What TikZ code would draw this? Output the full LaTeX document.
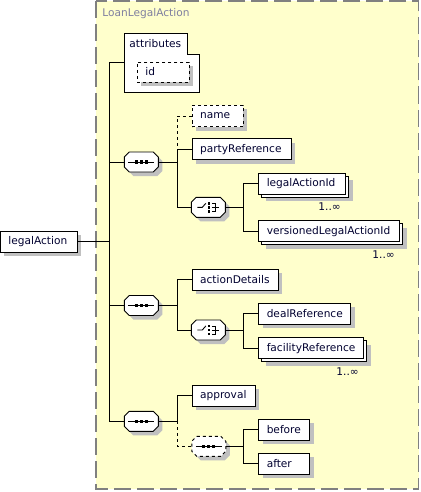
\documentclass[tikz,border=0pt]{standalone}
\usepackage{fontspec}
\setmainfont{DejaVu Sans}
\usetikzlibrary{shadows}
\definecolor{schemabg}{HTML}{FFFFCC}
\definecolor{schemaedge}{HTML}{808080}
\definecolor{schematitle}{HTML}{7F7FA0}
\definecolor{boxshadow}{HTML}{C0C0C0}
\definecolor{labeltext}{HTML}{000030}

% octagon frame of a compositor, drawn round its node
\newcommand{\octframe}[2][]{%
  \begin{scope}[shift={(#2.center)}]
    \fill[boxshadow] (-8,-6) -- (16,-6) -- (21,-1) -- (21,9) -- (16,14) -- (-8,14) -- (-13,9) -- (-13,-1) -- cycle;
    \draw[fill=white,#1] (-12,-10) -- (12,-10) -- (17,-5) -- (17,5) -- (12,10) -- (-12,10) -- (-17,5) -- (-17,-5) -- cycle;
  \end{scope}}
% compositor marks
\newcommand{\seqsymbol}[2][]{%
  \octframe[#1]{#2}
  \begin{scope}[shift={(#2.center)}]
    \draw[line width=1pt] (-13,0) -- (13,0);
    \foreach \dx in {-5,0,5} \fill (\dx-1.6,-1.6) rectangle (\dx+1.6,1.6);
  \end{scope}}
\newcommand{\choicesymbol}[1]{%
  \octframe{#1}
  \begin{scope}[shift={(#1.center)}]
    \draw[line width=0.9pt] (-11,0) -- (-6,0) -- (-2.5,-4);
    \foreach \dy in {-4,0,4} \fill (-0.6,\dy-1.3) rectangle (1.9,\dy+1.3);
    \draw[line width=0.9pt] (3.5,-4) -- (7,-4) -- (7,4) -- (3.5,4) (3.5,0) -- (11,0);
  \end{scope}}

\begin{document}
\begin{tikzpicture}[x=1pt,y=-1pt,line width=0.9pt,
  font=\fontsize{10.6}{12}\selectfont,text=labeltext,
  elem/.style={draw,fill=white,text width=#1,inner xsep=8pt,inner ysep=0pt,
    minimum height=21pt,align=left,anchor=west,
    drop shadow={shadow xshift=4pt,shadow yshift=-4pt,fill=boxshadow,opacity=1}},
  optelem/.style={elem=#1,dashed},
  multielem/.style={draw,fill=white,text width=#1,inner xsep=8pt,inner ysep=0pt,
    minimum height=21pt,align=left,anchor=west,
    drop shadow={shadow xshift=7pt,shadow yshift=-7pt,fill=boxshadow,opacity=1},
    copy shadow={shadow xshift=3pt,shadow yshift=-3pt}},
  compositor/.style={minimum width=34pt,minimum height=20pt,inner sep=0pt},
  mult/.style={inner sep=0pt,anchor=north east}]
\useasboundingbox (0,0) rectangle (420,492);

% complex type frame
\fill[schemabg] (96,1) rectangle (418.5,489);
\draw[schemaedge,line width=1.5pt,dash pattern=on 17pt off 6pt] (96,1) rectangle (418.5,489);
\node[anchor=west,inner sep=0pt,text=schematitle] (title) at (102,14) {LoanLegalAction};

% attributes
\draw[fill=white] (124,33) -- (187,33) -- (187,54) -- (199,54) -- (199,92) -- (124,92) -- cycle;
\node[anchor=west,inner sep=0pt] (attributes) at (129,44) {attributes};
\node[optelem=36,minimum height=20pt] (id) at (137,72) {id};
\coordinate (attrIn) at (124,62);

% root element
\node[elem=61] (legalAction) at (0,241.5) {legalAction};

% compositors
\node[compositor] (seq1) at (141.3,162) {};
\node[compositor] (seq2) at (141.3,305.5) {};
\node[compositor] (seq3) at (141.3,421.3) {};
\node[compositor] (choice1) at (208.3,207.3) {};
\node[compositor] (choice2) at (208.3,330) {};
\node[compositor] (seq4) at (208.8,446.3) {};
\seqsymbol{seq1}
\seqsymbol{seq2}
\seqsymbol{seq3}
\seqsymbol[dashed]{seq4}
\choicesymbol{choice1}
\choicesymbol{choice2}

% child elements
\node[optelem=35] (name) at (191.7,116) {name};
\node[elem=83] (partyReference) at (191.7,149.2) {partyReference};
\node[multielem=71] (legalActionId) at (258.3,183.7) {legalActionId};
\node[multielem=125] (versionedLegalActionId) at (258.3,231.3) {versionedLegalActionId};
\node[elem=70] (actionDetails) at (191.7,279.7) {actionDetails};
\node[elem=76] (dealReference) at (258.3,313.7) {dealReference};
\node[multielem=89] (facilityReference) at (258.3,348.3) {facilityReference};
\node[elem=47] (approval) at (191.7,395.7) {approval};
\node[elem=35] (before) at (258.3,429.7) {before};
\node[elem=35] (after) at (258.3,463.8) {after};

\node[mult] (m1) at ([xshift=-5pt,yshift=-8pt]legalActionId.south east) {1..∞};
\node[mult] (m2) at ([xshift=-5pt,yshift=-8pt]versionedLegalActionId.south east) {1..∞};
\node[mult] (m3) at ([xshift=-5pt,yshift=-8pt]facilityReference.south east) {1..∞};

% connectors
\coordinate (bus0) at (109.3,0);
\coordinate (bus1) at (177,0);
\coordinate (bus2) at (243,0);
\draw (legalAction.east) -- (legalAction.east -| bus0);
\draw (attrIn) -| (seq3.west -| bus0) -- (seq3.west);
\draw (seq1.west) -- (seq1.west -| bus0);
\draw (seq2.west) -- (seq2.west -| bus0);

\draw (seq1.east) -- (seq1.east -| bus1);
\draw[dashed] (name.west) -| (partyReference.west -| bus1);
\draw (partyReference.west) -- (partyReference.west -| bus1) |- (choice1.west);
\draw (choice1.east) -- (choice1.east -| bus2);
\draw (legalActionId.west) -| (versionedLegalActionId.west -| bus2) -- (versionedLegalActionId.west);

\draw (seq2.east) -- (seq2.east -| bus1);
\draw (actionDetails.west) -| (choice2.west -| bus1) -- (choice2.west);
\draw (choice2.east) -- (choice2.east -| bus2);
\draw (dealReference.west) -| (facilityReference.west -| bus2) -- (facilityReference.west);

\draw (seq3.east) -- (seq3.east -| bus1);
\draw (approval.west) -| (seq3.east -| bus1);
\draw[dashed] (seq3.east -| bus1) |- (seq4.west);
\draw (seq4.east) -- (seq4.east -| bus2);
\draw (before.west) -| (after.west -| bus2) -- (after.west);
\end{tikzpicture}
\end{document}
